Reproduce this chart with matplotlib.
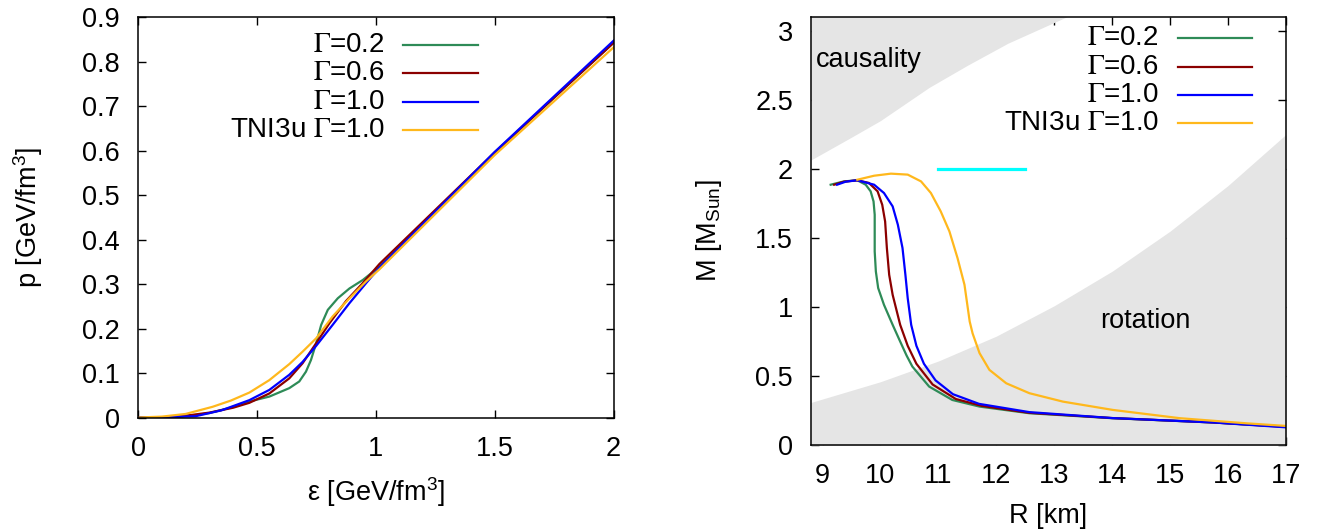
import numpy as np
import matplotlib
matplotlib.use("Agg")
import matplotlib.pyplot as plt

plt.rcParams.update({
    'font.family': ['Liberation Sans', 'DejaVu Sans'],
    'font.size': 19.5,
    'mathtext.fontset': 'custom',
    'mathtext.rm': 'Liberation Sans',
    'mathtext.it': 'Liberation Sans:italic',
    'mathtext.bf': 'Liberation Sans:bold',
})

# ---- left panel: EoS p(eps) ----
eps_g02 = [0.0, 0.1, 0.17, 0.25, 0.3, 0.38, 0.468, 0.552, 0.636, 0.678, 0.706, 0.727, 0.749, 0.770, 0.798, 0.840, 0.889, 0.945, 1.015, 1.5, 2.0]
p_g02 = [0.0, 0.0005, 0.002, 0.006, 0.01, 0.021, 0.036, 0.047, 0.066, 0.081, 0.103, 0.129, 0.167, 0.208, 0.242, 0.268, 0.29, 0.309, 0.339, 0.595, 0.843]

eps_g06 = [0.0, 0.1, 0.17, 0.3, 0.4, 0.468, 0.552, 0.636, 0.692, 0.749, 0.805, 0.875, 0.945, 1.015, 1.5, 2.0]
p_g06 = [0.0, 0.0005, 0.002, 0.011, 0.022, 0.033, 0.054, 0.088, 0.122, 0.167, 0.212, 0.262, 0.302, 0.345, 0.596, 0.842]

eps_g10 = [0.0, 0.1, 0.243, 0.35, 0.468, 0.552, 0.636, 0.692, 0.749, 0.818, 0.889, 0.959, 1.015, 1.5, 2.0]
p_g10 = [0.0, 0.0005, 0.003, 0.016, 0.039, 0.062, 0.096, 0.125, 0.161, 0.208, 0.257, 0.302, 0.337, 0.597, 0.847]

eps_tni = [0.0, 0.1, 0.2, 0.313, 0.39, 0.468, 0.552, 0.636, 0.692, 0.749, 0.818, 0.889, 0.959, 1.015, 1.5, 2.0]
p_tni = [0.0, 0.002, 0.008, 0.024, 0.038, 0.056, 0.084, 0.12, 0.148, 0.178, 0.227, 0.268, 0.306, 0.333, 0.59, 0.832]

# ---- right panel: M(R) ----
R_g02 = [9.14, 9.37, 9.60, 9.745, 9.83, 9.88, 9.90, 9.90, 9.90, 9.92, 9.96, 10.06, 10.21, 10.33, 10.45, 10.55, 10.84, 11.24, 11.71, 12.57, 14.0, 15.75, 17.0]
M_g02 = [1.886, 1.910, 1.918, 1.886, 1.838, 1.765, 1.669, 1.548, 1.403, 1.258, 1.138, 1.017, 0.872, 0.76, 0.65, 0.57, 0.425, 0.328, 0.28, 0.232, 0.196, 0.165, 0.135]

R_g06 = [9.20, 9.37, 9.60, 9.80, 9.95, 10.03, 10.08, 10.11, 10.15, 10.21, 10.34, 10.47, 10.62, 10.90, 11.30, 11.75, 12.57, 14.0, 15.75, 17.0]
M_g06 = [1.886, 1.908, 1.918, 1.899, 1.838, 1.741, 1.620, 1.428, 1.234, 1.089, 0.872, 0.72, 0.59, 0.44, 0.335, 0.285, 0.235, 0.197, 0.165, 0.133]

R_g10 = [9.25, 9.40, 9.60, 9.89, 10.06, 10.21, 10.30, 10.38, 10.43, 10.47, 10.53, 10.62, 10.75, 10.95, 11.25, 11.70, 12.57, 14.0, 15.75, 17.0]
M_g10 = [1.886, 1.908, 1.918, 1.886, 1.826, 1.729, 1.596, 1.428, 1.234, 1.065, 0.872, 0.72, 0.59, 0.47, 0.37, 0.30, 0.24, 0.197, 0.165, 0.13]

R_tni = [9.60, 9.89, 10.18, 10.47, 10.70, 10.87, 11.04, 11.19, 11.33, 11.45, 11.54, 11.59, 11.71, 11.88, 12.17, 12.57, 13.15, 14.01, 15.17, 16.32, 17.0]
M_tni = [1.922, 1.951, 1.966, 1.959, 1.910, 1.826, 1.693, 1.548, 1.355, 1.162, 0.896, 0.81, 0.667, 0.546, 0.449, 0.377, 0.316, 0.256, 0.196, 0.159, 0.14]

R_obs = [11.0, 12.5]
M_obs = [2.0, 2.0]

# excluded regions
R_caus = [8.8, 9.5, 10.0, 10.84, 11.5, 12.2, 13.21, 13.6]
M_caus = [2.065, 2.23, 2.35, 2.59, 2.75, 2.91, 3.10, 3.18]
R_rot = [8.8, 10, 11, 12, 13, 14, 15, 16, 17]
M_rot = [0.31, 0.46, 0.61, 0.79, 1.01, 1.26, 1.55, 1.88, 2.25]

labels = [r'$\Gamma$=0.2', r'$\Gamma$=0.6', r'$\Gamma$=1.0', r'TNI3u $\Gamma$=1.0']
colors = ['#2e8b57', '#8b0000', '#0000ff', '#ffb81c']

eps_ticks = [0, 0.5, 1, 1.5, 2]
eps_ticklabels = ['0', '0.5', '1', '1.5', '2']
p_ticks = [0, 0.1, 0.2, 0.3, 0.4, 0.5, 0.6, 0.7, 0.8, 0.9]
p_ticklabels = ['0', '0.1', '0.2', '0.3', '0.4', '0.5', '0.6', '0.7', '0.8', '0.9']
R_ticks = [9, 10, 11, 12, 13, 14, 15, 16, 17]
M_ticks = [0, 0.5, 1, 1.5, 2, 2.5, 3]
M_ticklabels = ['0', '0.5', '1', '1.5', '2', '2.5', '3']

FS = 19.5


def style_axes(ax):
    ax.tick_params(direction='in', length=6, width=1, top=True, right=True,
                   labelsize=FS, pad=13)
    for s in ax.spines.values():
        s.set_linewidth(1.1)


def key(ax, xt, xl0, xl1, ys):
    # gnuplot-style key: right aligned text, sample line to the right
    for lab, col, y in zip(labels, colors, ys):
        t = ax.text(xt, y, lab, ha='right', va='center', transform=ax.transAxes,
                    fontsize=20, zorder=5)
        t.set_math_fontfamily('stix')
        ax.plot([xl0, xl1], [y, y], color=col, lw=1.6, transform=ax.transAxes,
                clip_on=False, zorder=5)


fig = plt.figure(figsize=(13.26, 5.32), dpi=100)
ax1 = fig.add_axes([0.1041, 0.2152, 0.3587, 0.7528])
ax2 = fig.add_axes([0.6116, 0.163, 0.3582, 0.8051])

# left
for x, y, c in zip([eps_g02, eps_g06, eps_g10, eps_tni], [p_g02, p_g06, p_g10, p_tni], colors):
    ax1.plot(x, y, color=c, lw=1.6)
ax1.set_xlim(0, 2)
ax1.set_ylim(0, 0.9)
ax1.set_xticks(eps_ticks)
ax1.set_xticklabels(eps_ticklabels)
ax1.set_yticks(p_ticks)
ax1.set_yticklabels(p_ticklabels)
style_axes(ax1)
ax1.set_xlabel(r'ε [GeV/fm$^3$]', fontsize=FS, va='center')
ax1.xaxis.set_label_coords(0.5, -0.186)
ax1.set_ylabel(r'p [GeV/fm$^3$]', fontsize=FS, va='center')
ax1.yaxis.set_label_coords(-0.231, 0.5)
key(ax1, 0.519, 0.557, 0.715, [0.930, 0.860, 0.789, 0.718])

# right
ax2.set_axisbelow(True)
ax2.fill_between(R_caus, M_caus, 3.3, color='#e5e5e5', lw=0, zorder=1)
ax2.fill_between(R_rot, 0, M_rot, color='#e5e5e5', lw=0, zorder=1)
for x, y, c in zip([R_g02, R_g06, R_g10, R_tni], [M_g02, M_g06, M_g10, M_tni], colors):
    ax2.plot(x, y, color=c, lw=1.6, zorder=2)
ax2.plot(R_obs, M_obs, color='#00ffff', lw=2.3, zorder=2)
ax2.text(8.89, 2.79, 'causality', fontsize=FS, va='center', ha='left', zorder=3)
ax2.text(13.79, 0.9, 'rotation', fontsize=FS, va='center', ha='left', zorder=3)
ax2.set_xlim(8.8, 17)
ax2.set_ylim(0, 3.1)
ax2.set_xticks(R_ticks)
ax2.set_yticks(M_ticks)
ax2.set_yticklabels(M_ticklabels)
style_axes(ax2)
ax2.set_xlabel('R [km]', fontsize=FS, va='center')
ax2.xaxis.set_label_coords(0.5, -0.165)
ax2.set_ylabel(r'M [M$_{\rm Sun}$]', fontsize=FS, va='center')
ax2.yaxis.set_label_coords(-0.215, 0.5)
key(ax2, 0.733, 0.773, 0.928, [0.951, 0.883, 0.818, 0.752])

fig.savefig('out.png', dpi=100)
